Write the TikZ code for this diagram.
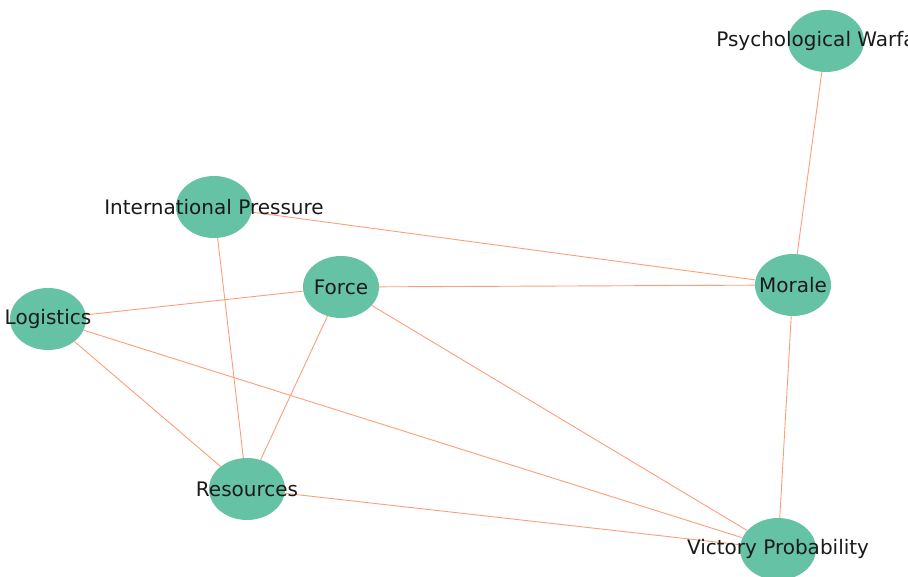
\documentclass[tikz,border=0pt]{standalone}
\usepackage{fontspec}
\setmainfont{DejaVu Sans}
\usetikzlibrary{shapes.geometric, backgrounds}

\definecolor{nodegreen}{HTML}{66C2A5}
\definecolor{edgesalmon}{HTML}{FC8D62}
\definecolor{labelgray}{HTML}{1A1A1A}

\begin{document}
\begin{tikzpicture}[
  x=1pt, y=1pt,
  factor/.style={
    ellipse, fill=nodegreen,
    minimum width=76pt, minimum height=62pt,
    inner sep=0pt
  },
  lbl/.style={
    text=labelgray, inner sep=0pt,
    font=\fontsize{20}{20}\selectfont
  },
  link/.style={draw=edgesalmon, line width=0.9pt, opacity=0.85}
]
  \useasboundingbox (0,0) rectangle (908,576);
  \clip (0,0) rectangle (908,576);

  % factors
  \node[factor] (psy) at (826,535) {};
  \node[factor] (intl) at (214,369) {};
  \node[factor] (force) at (341,289) {};
  \node[factor] (logi) at (48,257) {};
  \node[factor] (morale) at (793,291) {};
  \node[factor] (res) at (247,87) {};
  \node[factor] (vic) at (778,27) {};

  \node[lbl] (psyl) at (psy) {Psychological Warfare};
  \node[lbl] (intll) at (intl) {International Pressure};
  \node[lbl] (forcel) at (force) {Force};
  \node[lbl] (logil) at (logi) {Logistics};
  \node[lbl] (moralel) at (morale) {Morale};
  \node[lbl] (resl) at (res) {Resources};
  \node[lbl] (vicl) at (vic) {Victory Probability};

  % links
  \begin{pgfonlayer}{background}
    \draw[link] (psy) -- (morale);
    \draw[link] (intl) -- (morale);
    \draw[link] (intl) -- (res);
    \draw[link] (force) -- (morale);
    \draw[link] (force) -- (logi);
    \draw[link] (force) -- (res);
    \draw[link] (force) -- (vic);
    \draw[link] (logi) -- (res);
    \draw[link] (logi) -- (vic);
    \draw[link] (morale) -- (vic);
    \draw[link] (res) -- (vic);
  \end{pgfonlayer}

\end{tikzpicture}
\end{document}
